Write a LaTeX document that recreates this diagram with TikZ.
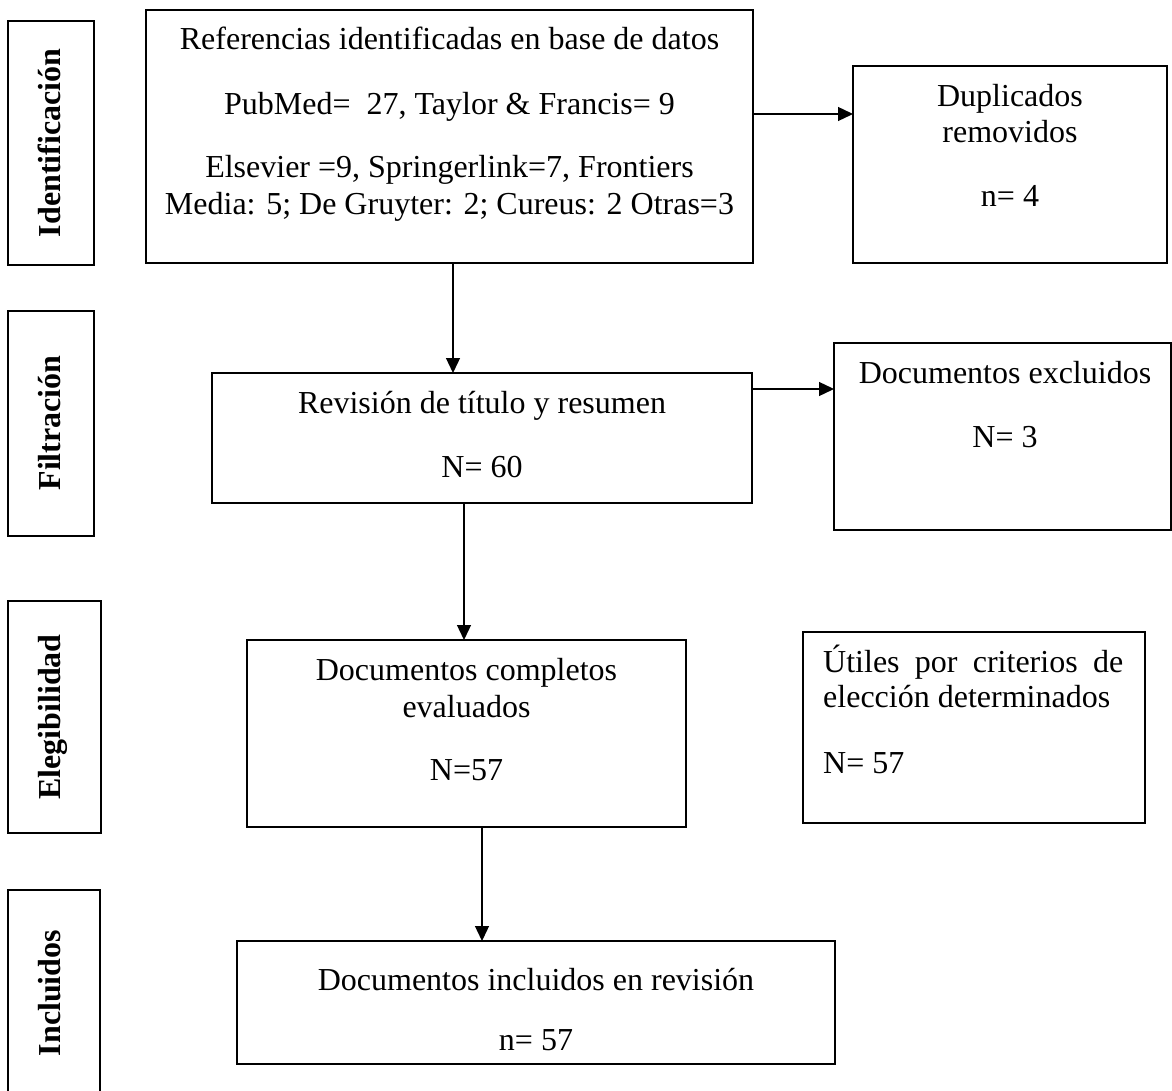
\documentclass[tikz,border=0pt]{standalone}
\usepackage{fontspec}
\setmainfont{Liberation Serif}
\usetikzlibrary{arrows.meta}
\begin{document}
\begin{tikzpicture}[x=1pt,y=-1pt,
  box/.style={draw, line width=1.3pt, rectangle, inner sep=0pt, outer sep=0pt, anchor=north west},
  txt/.style={font=\fontsize{32}{37}\selectfont, inner sep=0pt, anchor=base},
  lab/.style={font=\fontsize{32}{37}\selectfont\bfseries, inner sep=0pt, anchor=base, rotate=90},
  arr/.style={line width=1.3pt, -{Triangle[length=15pt,width=14pt]}}]
\useasboundingbox[fill=white] (0,0) rectangle (1172,1091);

% side stage boxes
\node[box, minimum width=86pt, minimum height=244pt] (sid) at (8,21) {};
\node[box, minimum width=86pt, minimum height=225pt] (sfil) at (8,311) {};
\node[box, minimum width=93pt, minimum height=232pt] (sele) at (8,601) {};
\node[box, minimum width=92pt, minimum height=220pt] (sinc) at (8,890) {};
\node[lab] (lid) at (60,143) {Identificación};
\node[lab] (lfil) at (60,423) {Filtración};
\node[lab] (lele) at (60,717) {Elegibilidad};
\node[lab] (linc) at (60,993) {Incluidos};

% main boxes
\node[box, minimum width=607pt, minimum height=253pt] (b1) at (146,10) {};
\node[box, minimum width=314pt, minimum height=197pt] (dup) at (853,66) {};
\node[box, minimum width=540pt, minimum height=130pt] (rev) at (212,373) {};
\node[box, minimum width=337pt, minimum height=187pt] (exc) at (834,343) {};
\node[box, minimum width=439pt, minimum height=187pt] (doc) at (247,640) {};
\node[box, minimum width=342pt, minimum height=191pt] (uti) at (803,632) {};
\node[box, minimum width=598pt, minimum height=123pt] (inc) at (237,941) {};

% texts
\node[txt] (t1a) at (449.5,50) {Referencias identificadas en base de datos};
\node[txt] (t1b) at (449.5,115) {PubMed=~ 27, Taylor \& Francis= 9};
\node[txt] (t1c) at (449.5,178) {Elsevier =9, Springerlink=7, Frontiers};
\node[txt] (t1d) at (449.5,215) {Media: 5; De Gruyter: 2; Cureus: 2 Otras=3};

\node[txt] (t2a) at (1010,107) {Duplicados};
\node[txt] (t2b) at (1010,143) {removidos};
\node[txt] (t2c) at (1010,207) {n= 4};

\node[txt] (t3a) at (482,413) {Revisión de título y resumen};
\node[txt] (t3b) at (482,477) {N= 60};

\node[txt] (t4a) at (1005,383) {Documentos excluidos};
\node[txt] (t4b) at (1005,447) {N= 3};

\node[txt] (t5a) at (466.5,680) {Documentos completos};
\node[txt] (t5b) at (466.5,717) {evaluados};
\node[txt] (t5c) at (466.5,780) {N=57};

\node[txt, anchor=base west] (t6a) at (823,672) {\makebox[300pt][s]{Útiles por criterios de}};
\node[txt, anchor=base west] (t6b) at (823,707) {elección determinados};
\node[txt, anchor=base west] (t6c) at (823,773) {N= 57};

\node[txt] (t7a) at (536,990) {Documentos incluidos en revisión};
\node[txt] (t7b) at (536,1050) {n= 57};

% connectors
\coordinate (c1) at (453,0);
\coordinate (c2) at (464,0);
\coordinate (c3) at (482,0);
\coordinate (r1) at (0,114);
\coordinate (r2) at (0,389);
\draw[arr] (b1.south -| c1) -- (rev.north -| c1);
\draw[arr] (b1.east |- r1) -- (dup.west |- r1);
\draw[arr] (rev.east |- r2) -- (exc.west |- r2);
\draw[arr] (rev.south -| c2) -- (doc.north -| c2);
\draw[arr] (doc.south -| c3) -- (inc.north -| c3);
\end{tikzpicture}
\end{document}
